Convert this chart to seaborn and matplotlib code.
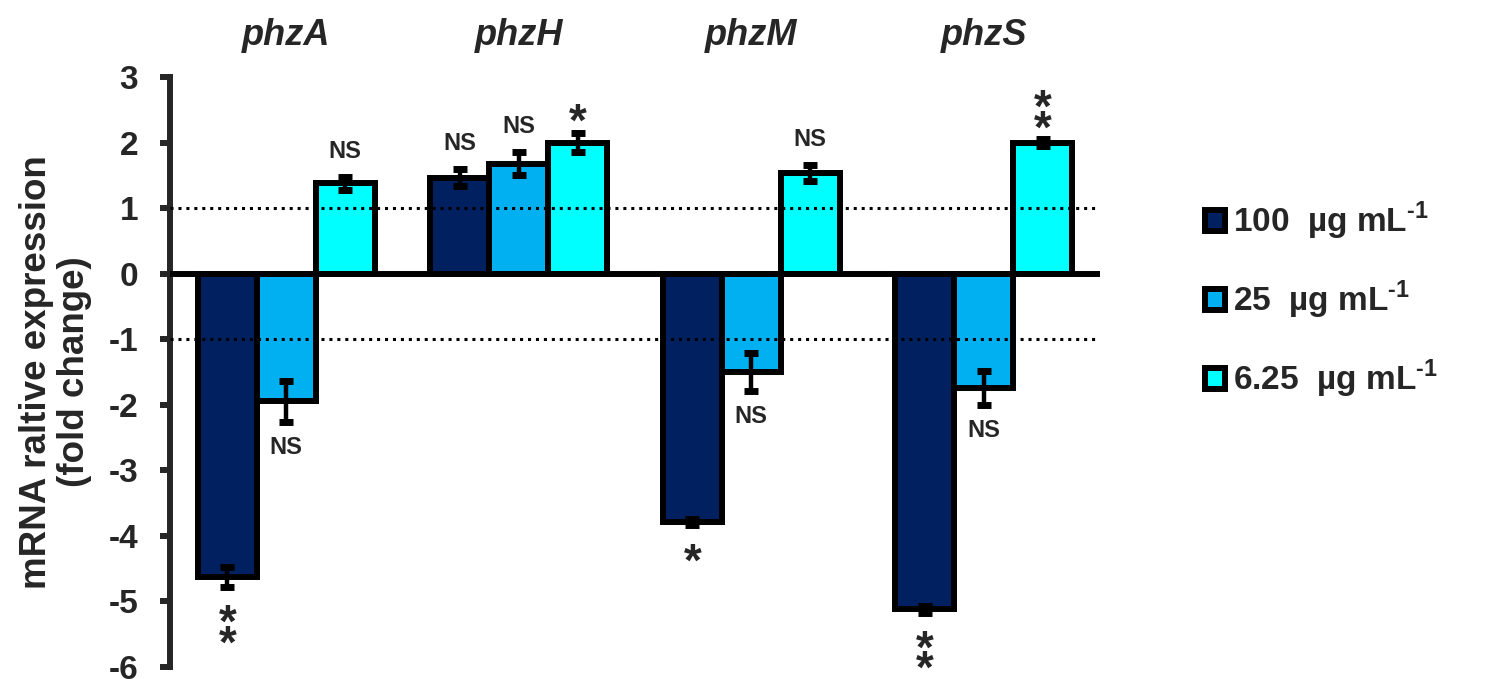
import matplotlib
matplotlib.use("Agg")
import matplotlib.pyplot as plt
from matplotlib.patches import Patch
import pandas as pd
import seaborn as sns

GENES = ["phzA", "phzH", "phzM", "phzS"]
CONCS = ["100", "25", "6.25"]
CONC_LABELS = ["100  µg mL$^{\\mathbf{\u20101}}$", "25  µg mL$^{\\mathbf{\u20101}}$",
               "6.25  µg mL$^{\\mathbf{\u20101}}$"]
FOLD_100 = [-4.63, 1.46, -3.79, -5.12]
FOLD_25 = [-1.95, 1.68, -1.50, -1.74]
FOLD_625 = [1.38, 2.00, 1.54, 2.00]
ERR_100 = [0.15, 0.13, 0.05, 0.05]
ERR_25 = [0.32, 0.17, 0.29, 0.26]
ERR_625 = [0.10, 0.15, 0.12, 0.05]
SIG_100 = ["**", "NS", "*", "**"]
SIG_25 = ["NS", "NS", "NS", "NS"]
SIG_625 = ["NS", "*", "NS", "**"]
COLORS = ["#002060", "#00B0F0", "#00FFFF"]

folds = [FOLD_100, FOLD_25, FOLD_625]
errs = [ERR_100, ERR_25, ERR_625]
sigs = [SIG_100, SIG_25, SIG_625]

df = pd.DataFrame({
    "gene": GENES * 3,
    "conc": [c for c in CONCS for _ in GENES],
    "fold": FOLD_100 + FOLD_25 + FOLD_625,
})

sns.set_style("white")
plt.rcParams.update({
    "font.family": ["Liberation Sans", "DejaVu Sans"],
    "font.weight": "bold",
    "axes.unicode_minus": False,
    "mathtext.fontset": "custom",
    "mathtext.bf": "Liberation Sans:bold",
    "mathtext.rm": "Liberation Sans:bold",
})

fig = plt.figure(figsize=(14.87, 6.79), dpi=100)
ax = fig.add_axes([170 / 1487, 1 - 667 / 679, 930 / 1487, 590 / 679])

sns.barplot(data=df, x="gene", y="fold", hue="conc", order=GENES,
            hue_order=CONCS, palette=COLORS, saturation=1, width=0.76,
            edgecolor="black", linewidth=4.3, errorbar=None, legend=False,
            ax=ax, zorder=2)

ax.set_ylim(-6, 3)
ax.set_xlim(-0.5, 3.5)
ax.set_yticks(range(-6, 4))
ax.set_xticks([])
ax.set_xlabel("")
ax.set_ylabel("mRNA raltive expression\n(fold change)", fontsize=26.5,
              fontweight="bold", labelpad=12, linespacing=1.1)
for side in ["top", "right", "bottom"]:
    ax.spines[side].set_visible(False)
ax.spines["left"].set_linewidth(4.3)
ax.tick_params(axis="y", direction="out", length=7, width=4.3,
               labelsize=24, pad=16, left=True)
for lab in ax.get_yticklabels():
    lab.set_fontweight("bold")

ax.axhline(0, color="black", lw=4.3, zorder=3)
for yv in (1, -1):
    ax.axhline(yv, color="black", lw=2.2, ls=(0, (1, 1.6)), zorder=4)

# error bars and significance marks
for cont, vals, err, sig in zip(ax.containers, folds, errs, sigs):
    xs = [b.get_x() + b.get_width() / 2 for b in cont]
    ax.errorbar(xs, vals, yerr=err, fmt="none", ecolor="black",
                elinewidth=3.2, capsize=5, capthick=5, zorder=5)
    for x, v, e, s in zip(xs, vals, err, sig):
        above = v > 0
        base = v + e if above else v - e
        if s == "NS":
            ax.annotate(s, xy=(x, base), xytext=(0, 14 if above else -14),
                        textcoords="offset pixels", ha="center",
                        va="bottom" if above else "top",
                        fontsize=17, fontweight="bold", zorder=6)
        else:
            ax.annotate("\n".join(s), xy=(x, base),
                        xytext=(0, -13 if above else -16),
                        textcoords="offset pixels", ha="center",
                        va="bottom" if above else "top", fontsize=33,
                        linespacing=0.3, fontweight="bold", zorder=6)

for i, g in enumerate(GENES):
    ax.text(i, 1.054, g, transform=ax.get_xaxis_transform(), ha="center",
            va="baseline", fontsize=26, fontweight="bold",
            fontstyle="italic")

handles = [Patch(facecolor=c, edgecolor="black", linewidth=4.3)
           for c in COLORS]
fig.legend(handles, CONC_LABELS, loc="center left",
           bbox_to_anchor=(1205 / 1487, 1 - 300 / 679), frameon=False,
           handlelength=0.6, handleheight=0.6,
           handletextpad=0.25, labelspacing=1.1, borderpad=0,
           borderaxespad=0, prop={"weight": "bold", "size": 24})

fig.savefig("out.png", dpi=100)
